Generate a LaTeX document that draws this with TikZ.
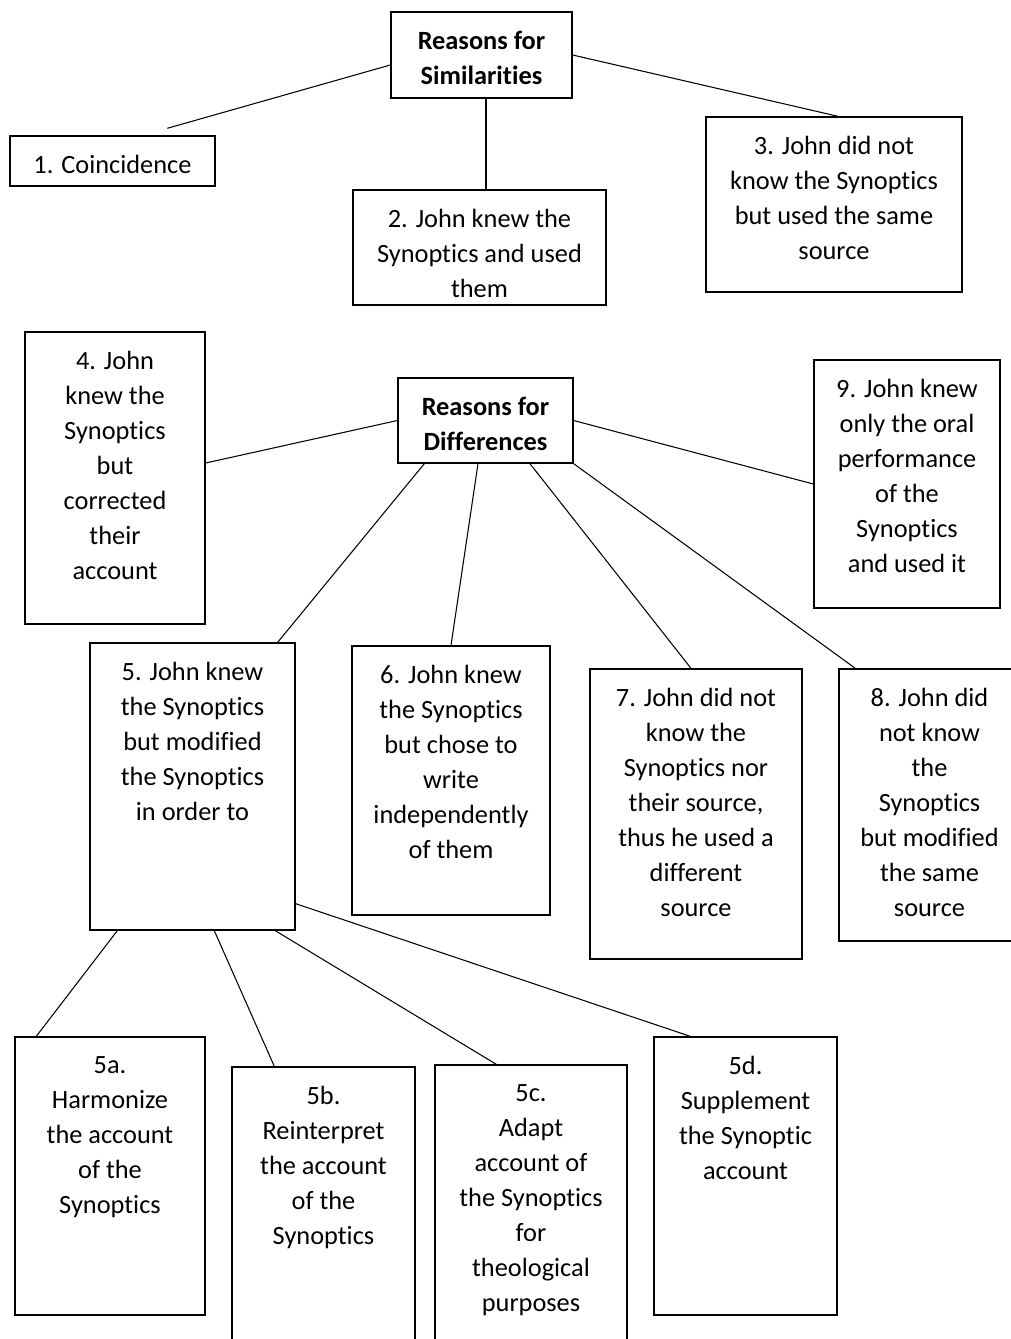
\documentclass[tikz,border=0pt]{standalone}
\usepackage{fontspec}
\setmainfont{Carlito}[Ligatures={NoCommon}]
\usetikzlibrary{positioning,calc}

\tikzset{
  box/.style={draw, line width=0.8pt, inner sep=0pt},
  lbl/.style={align=center, inner sep=0pt, font=\fontsize{15}{19.9}\selectfont},
  head/.style={lbl, font=\fontsize{15}{19.9}\selectfont\bfseries},
  link/.style={line width=0.6pt}
}

\begin{document}
\begin{tikzpicture}[x=0.02cm,y=-0.02cm]

\useasboundingbox[fill=white] (0,0) rectangle (1011,1339);

% top tree
\node[box, minimum width=3.62cm, minimum height=1.72cm] (sim) at (481.5,55) {};
\node[box, minimum width=4.10cm, minimum height=1.00cm] (c1) at (112.5,161) {};
\node[box, minimum width=5.06cm, minimum height=2.30cm] (c2) at (479.5,247.5) {};
\node[box, minimum width=5.12cm, minimum height=3.50cm] (c3) at (834,204.5) {};

\node[head, below=0.40cm of sim.north] (tsim) {Reasons for\\Similarities};
\node[lbl, below=0.40cm of c1.north] (tc1) {1. Coincidence};
\node[lbl, below=0.40cm of c2.north] (tc2) {2. John knew the\\Synoptics and used\\them};
\node[lbl, below=0.40cm of c3.north] (tc3) {3. John did not\\know the Synoptics\\but used the same\\source};

\coordinate (c1top) at ([xshift=3.16cm,yshift=0.14cm]c1.north west);
\draw[link] ([yshift=-0.2cm]sim.west) -- (c1top);
\draw[link] ([xshift=0.09cm]sim.south) -- ([xshift=0.09cm]sim.south |- c2.north);
\draw[link] (sim.east) -- ([xshift=0.08cm]c3.north);

% middle tree
\node[box, minimum width=3.50cm, minimum height=1.70cm] (diff) at (485.5,420.5) {};
\node[box, minimum width=3.60cm, minimum height=5.84cm] (c4) at (115,478) {};
\node[box, minimum width=3.72cm, minimum height=4.96cm] (c9) at (907,484) {};
\node[box, minimum width=4.10cm, minimum height=5.74cm] (c5) at (192.5,786.5) {};
\node[box, minimum width=3.96cm, minimum height=5.38cm] (c6) at (451,780.5) {};
\node[box, minimum width=4.24cm, minimum height=5.80cm] (c7) at (696,814) {};
\node[box, minimum width=3.62cm, minimum height=5.44cm] (c8) at (929.5,805) {};

\node[head, below=0.40cm of diff.north] (tdiff) {Reasons for\\Differences};
\node[lbl, below=0.40cm of c4.north] (tc4) {4. John\\knew the\\Synoptics\\but\\corrected\\their\\account};
\node[lbl, below=0.40cm of c9.north] (tc9) {9. John knew\\only the oral\\performance\\of the\\Synoptics\\and used it};
\node[lbl, below=0.40cm of c5.north] (tc5) {5. John knew\\the Synoptics\\but modified\\the Synoptics\\in order to};
\node[lbl, below=0.40cm of c6.north] (tc6) {6. John knew\\the Synoptics\\but chose to\\write\\independently\\of them};
\node[lbl, below=0.40cm of c7.north] (tc7) {7. John did not\\know the\\Synoptics nor\\their source,\\thus he used a\\different\\source};
\node[lbl, below=0.40cm of c8.north] (tc8) {8. John did\\not know\\the\\Synoptics\\but modified\\the same\\source};

\draw[link] (diff.west) -- ([yshift=0.3cm]c4.east);
\draw[link] (diff.east) -- (c9.west);
\draw[link] ([xshift=0.54cm]diff.south west) -- ([xshift=-0.36cm]c5.north east);
\draw[link] ([xshift=-0.15cm]diff.south) -- (c6.north);
\draw[link] ([xshift=0.89cm]diff.south) -- ([xshift=-0.1cm]c7.north);
\draw[link] (diff.south east) -- ([xshift=0.34cm]c8.north west);

% bottom tree
\node[box, minimum width=3.80cm, minimum height=5.56cm] (c5a) at (110,1176) {};
\node[box, minimum width=3.66cm, minimum height=5.86cm] (c5b) at (323.5,1213.5) {};
\node[box, minimum width=3.84cm, minimum height=5.90cm] (c5c) at (531,1212.5) {};
\node[box, minimum width=3.66cm, minimum height=5.56cm] (c5d) at (745.5,1176) {};

\node[lbl, below=0.40cm of c5a.north] (tc5a) {5a.\\Harmonize\\the account\\of the\\Synoptics};
\node[lbl, below=0.40cm of c5b.north] (tc5b) {5b.\\Reinterpret\\the account\\of the\\Synoptics};
\node[lbl, below=0.40cm of c5c.north] (tc5c) {5c.\\Adapt\\account of\\the Synoptics\\for\\theological\\purposes};
\node[lbl, below=0.40cm of c5d.north] (tc5d) {5d.\\Supplement\\the Synoptic\\account};

\draw[link] ([xshift=0.56cm]c5.south west) -- ([xshift=0.44cm]c5a.north west);
\draw[link] ([xshift=2.5cm]c5.south west) -- ([xshift=0.86cm]c5b.north west);
\draw[link] ([xshift=3.72cm]c5.south west) -- ([xshift=1.24cm]c5c.north west);
\draw[link] ([yshift=0.54cm]c5.south east) -- ([xshift=0.74cm]c5d.north west);

\end{tikzpicture}
\end{document}
